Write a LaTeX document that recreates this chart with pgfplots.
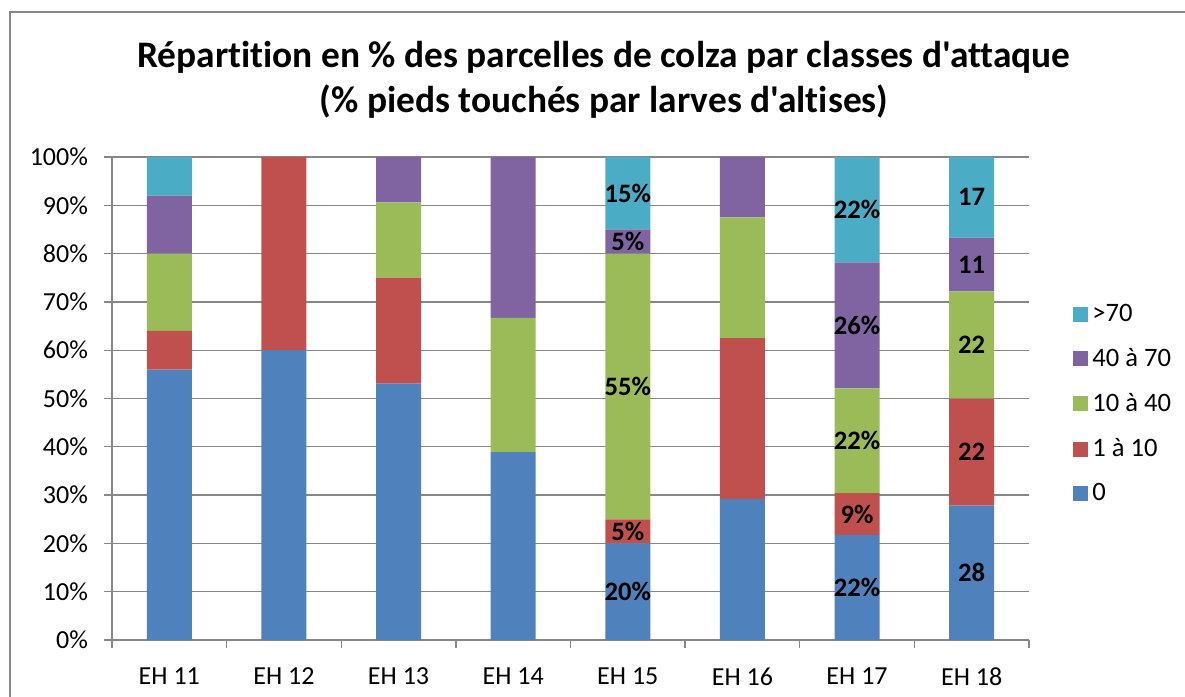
\documentclass[border=0pt]{standalone}
\usepackage{fontspec}
\setmainfont{Carlito}[Ligatures={TeXOff,NoCommon}]
\usepackage{xcolor}
\usepackage{pgfplots}
\pgfplotsset{compat=1.18}
\definecolor{c0}{HTML}{4F81BD}
\definecolor{c1}{HTML}{C0504D}
\definecolor{c2}{HTML}{9BBB59}
\definecolor{c3}{HTML}{8064A2}
\definecolor{c4}{HTML}{4BACC6}
\definecolor{gridgray}{HTML}{878787}

\pgfplotsset{
  common/.style={
    scale only axis, width=458.5pt, height=241.5pt,
    at={(0,0)}, anchor=south west,
    xmin=-0.5, xmax=7.5, ymin=0, ymax=100,
  },
}

\begin{document}
\begin{tikzpicture}
  \useasboundingbox (-56pt,-28.5pt) rectangle (536.5pt,320pt);
  \begin{axis}[
      common,
      ybar stacked, bar width=22.5pt,
      axis lines*=left,
      axis line style={gridgray, line width=0.65pt},
      ymajorgrids,
      major grid style={gridgray, line width=0.65pt},
      tick align=outside,
      xtick={0,...,7},
      xticklabels={EH 11, EH 12, EH 13, EH 14, EH 15, EH 16, EH 17, EH 18},
      major x tick style={draw=none},
      minor xtick={-0.5,0.5,...,7.5},
      minor tick length=4pt,
      major tick length=4pt,
      tick style={gridgray, line width=0.65pt},
      ytick={0,10,...,100},
      yticklabel={\pgfmathprintnumber{\tick}\%},
      /pgf/number format/assume math mode=true,
      tick label style={font=\fontsize{13}{15}\selectfont, text=black},
      yticklabel style={xshift=-4.5pt},
      xticklabel style={yshift=-6.5pt},
      every axis plot post/.append style={draw=none},
      title={Répartition en \% des parcelles de colza par classes d'attaque\\(\% pieds touchés par larves d'altises)},
      title style={font=\fontsize{18.7}{22.5}\selectfont\bfseries, align=center,
        at={(0.5365,1.134)}, anchor=center},
      legend style={draw=none, fill=none, at={(1.048,0.705)}, anchor=north west,
        font=\fontsize{13.3}{15}\selectfont, row sep=8pt, inner sep=0pt},
      legend cell align=left,
      reverse legend,
      legend image code/.code={\fill[#1] (0pt,-3.75pt) rectangle (7.5pt,3.75pt);},
    ]
    \addplot[fill=c0] coordinates {(0,56) (1,60) (2,53.1) (3,38.9) (4,20) (5,29.2) (6,21.7) (7,27.8)};
    \addplot[fill=c1] coordinates {(0,8) (1,40) (2,21.9) (3,0) (4,5) (5,33.3) (6,8.7) (7,22.2)};
    \addplot[fill=c2] coordinates {(0,16) (1,0) (2,15.6) (3,27.8) (4,55) (5,25) (6,21.7) (7,22.2)};
    \addplot[fill=c3] coordinates {(0,12) (1,0) (2,9.4) (3,33.3) (4,5) (5,12.5) (6,26.1) (7,11.1)};
    \addplot[fill=c4] coordinates {(0,8) (1,0) (2,0) (3,0) (4,15) (5,0) (6,21.8) (7,16.7)};
    \legend{0, 1 à 10, 10 à 40, 40 à 70, >70}
  \end{axis}
  \begin{axis}[
      common, hide axis,
    ]
    \addplot[only marks, mark=*, mark size=0pt, point meta=explicit symbolic,
      nodes near coords,
      every node near coord/.style={anchor=center, inner sep=0pt,
        font=\fontsize{13.3}{15}\selectfont\bfseries, text=black}]
      coordinates {
        (4,10) [20\%] (4,22.5) [5\%] (4,52.5) [55\%] (4,82.5) [5\%] (4,92.5) [15\%]
        (6,10.85) [22\%] (6,26.05) [9\%] (6,41.25) [22\%] (6,65.15) [26\%] (6,89.1) [22\%]
        (7,13.9) [28] (7,38.9) [22] (7,61.1) [22] (7,77.75) [11] (7,91.65) [17]
      };
  \end{axis}
  \draw[gridgray, line width=0.65pt] (-51pt,-60pt) -- (-51pt,314pt) -- (600pt,314pt);
\end{tikzpicture}
\end{document}
